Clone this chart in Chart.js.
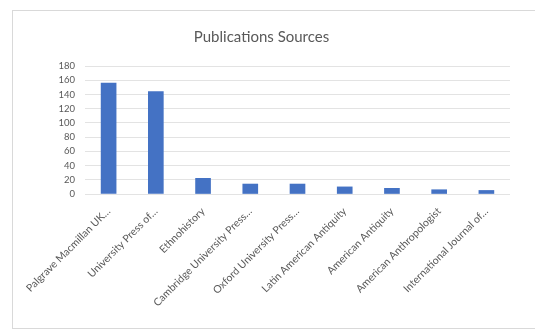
<!DOCTYPE html>
<html>
<head>
<meta charset="utf-8">
<script src="https://cdn.jsdelivr.net/npm/chart.js@4/dist/chart.umd.min.js"></script>
<style>
  body { margin: 0; background: #fff; }
  #box {
    position: absolute; left: 12px; top: 10px;
    width: 522px; height: 317px;
    border: 1px solid #d9d9d9; background: #fff;
  }
</style>
</head>
<body>
<div id="box"><canvas id="pubChart"></canvas></div>
<script>
// Define the data
var sources = ["Palgrave Macmillan UK…", "University Press of…", "Ethnohistory",
  "Cambridge University Press…", "Oxford University Press…", "Latin American Antiquity",
  "American Antiquity", "American Anthropologist", "International Journal of…"];
var counts = [156, 144, 22, 14, 14, 10, 8, 6, 5];
var yMax = 180, yStep = 20; // tick labels 0, 20, ... 180
// End Defining data

var ctx = document.getElementById("pubChart").getContext('2d');
var pubChart = new Chart(ctx, {
    type: 'bar',
    data: {
        labels: sources,
        datasets: [{
            label: 'Publications',
            data: counts,
            backgroundColor: '#4472c4',
            barThickness: 15
        }]
    },
    options: {
      responsive: true,
      maintainAspectRatio: false,
      animation: false,
      layout: { padding: { left: 0, right: 25, top: 0, bottom: 0 } },
      plugins: {
        legend: { display: false },
        tooltip: { enabled: false },
        title: {
          display: true,
          text: 'Publications Sources',
          color: '#595959',
          font: { family: 'Lato', size: 15, weight: 'normal' },
          padding: { top: 17, bottom: 20 }
        }
      },
      scales: {
        x: {
          grid: { display: false },
          border: { display: false },
          ticks: {
            color: '#595959',
            font: { family: 'Lato', size: 10.5 },
            maxRotation: 45, minRotation: 45,
            autoSkip: false
          },
          afterFit: function (scale) { scale.height = 134; }
        },
        y: {
          min: 0, max: yMax,
          grid: { color: '#e3e3e3', drawTicks: false },
          border: { display: false },
          ticks: {
            stepSize: yStep,
            autoSkip: false,
            color: '#595959',
            font: { family: 'Lato', size: 9.5 },
            padding: 10
          },
          afterFit: function (scale) { scale.width = 72; }
        }
      }
    }
});
</script>
</body>
</html>
